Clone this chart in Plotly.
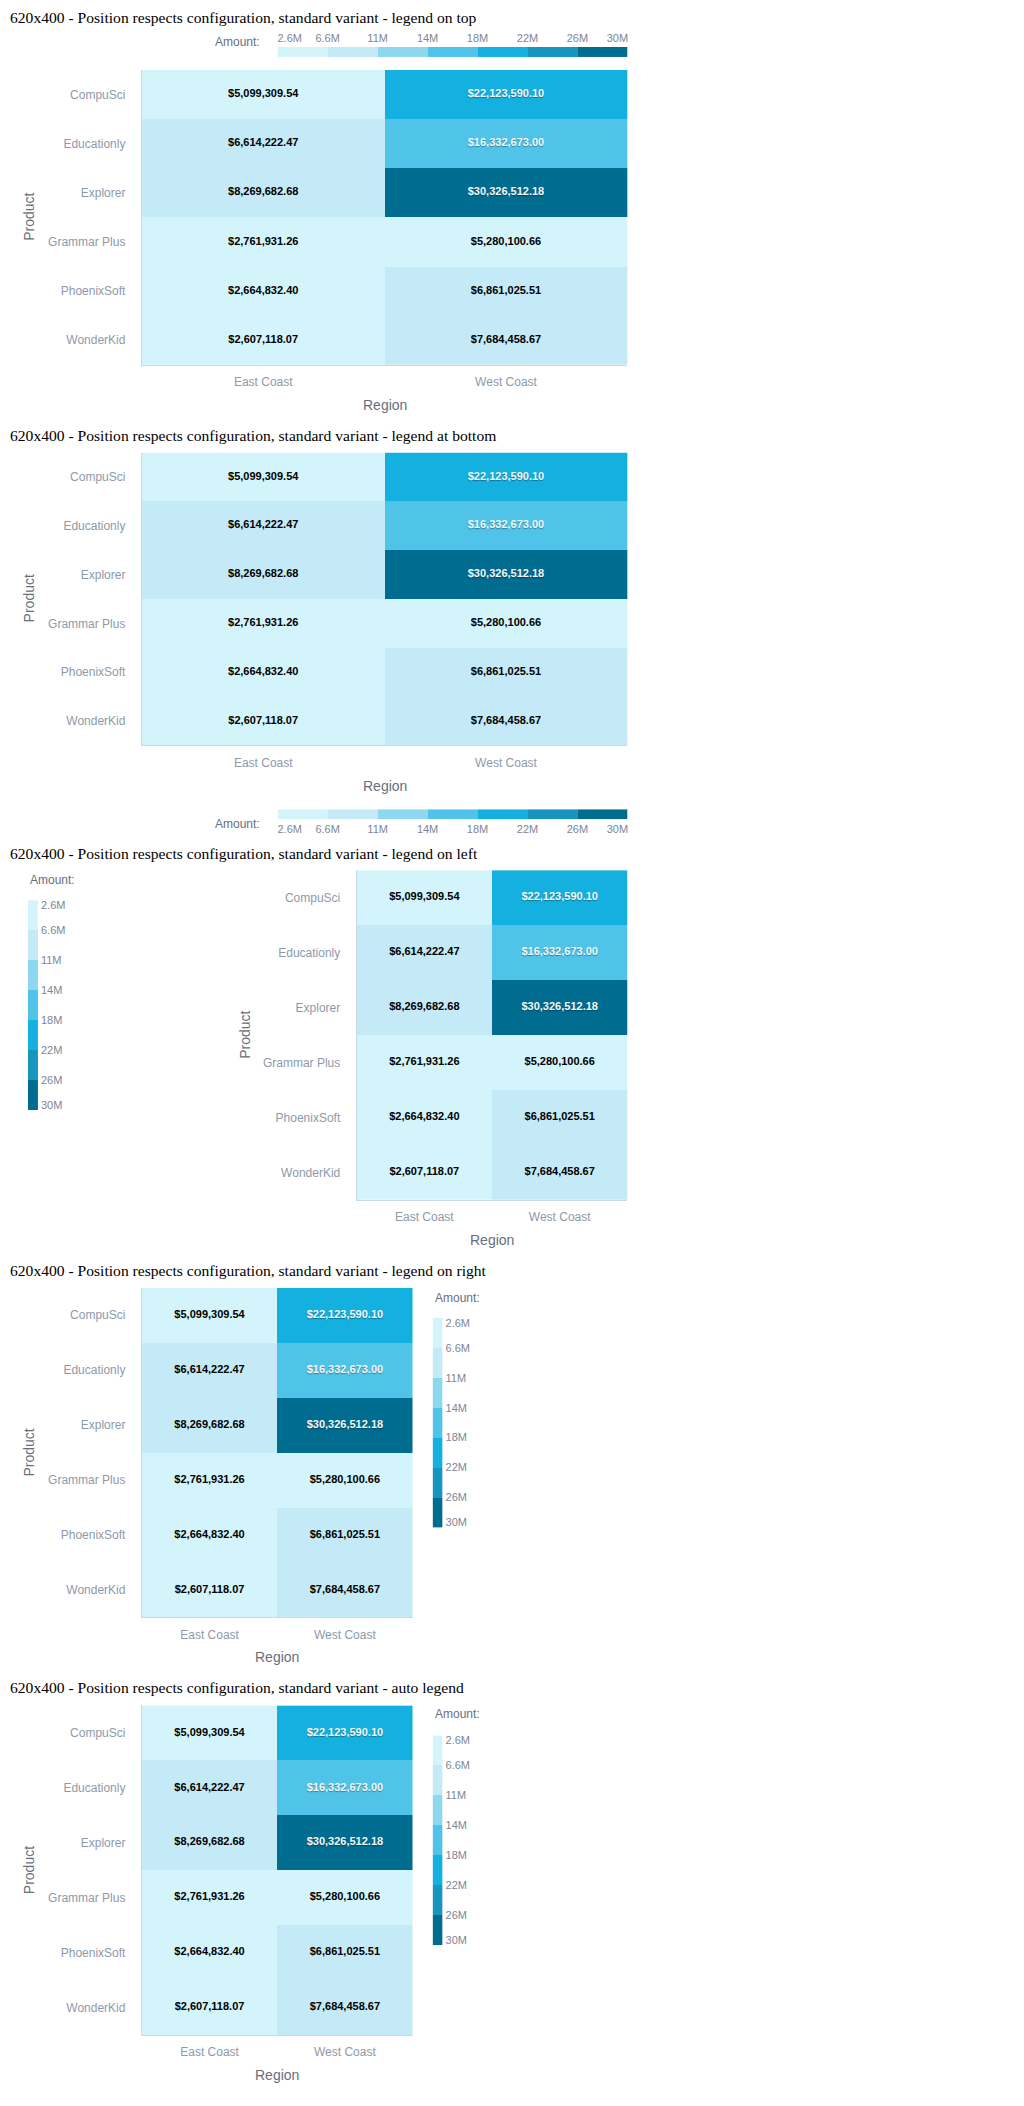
import plotly.graph_objects as go

W, H = 1024, 2106

# ---------------- data ----------------
REGIONS = ["East Coast", "West Coast"]
PRODUCTS = ["CompuSci", "Educationly", "Explorer", "Grammar Plus", "PhoenixSoft", "WonderKid"]
EAST_COAST = [5099309.54, 6614222.47, 8269682.68, 2761931.26, 2664832.40, 2607118.07]
WEST_COAST = [22123590.10, 16332673.00, 30326512.18, 5280100.66, 6861025.51, 7684458.67]
BAND_COLORS = ["#d4f4fc", "#c5eaf7", "#8dd8ef", "#4fc4e8", "#14b1e0", "#1695bf", "#006c8f"]
LEGEND_LABELS = ["2.6M", "6.6M", "11M", "14M", "18M", "22M", "26M", "30M"]
TITLES = [
    "620x400 - Position respects configuration, standard variant - legend on top",
    "620x400 - Position respects configuration, standard variant - legend at bottom",
    "620x400 - Position respects configuration, standard variant - legend on left",
    "620x400 - Position respects configuration, standard variant - legend on right",
    "620x400 - Position respects configuration, standard variant - auto legend",
]
X_TITLE = "Region"
Y_TITLE = "Product"
LEGEND_TITLE = "Amount:"

# ---------------- derived ----------------
Z = [[e, w] for e, w in zip(EAST_COAST, WEST_COAST)]
all_vals = EAST_COAST + WEST_COAST
ZMIN, ZMAX = min(all_vals), max(all_vals)
NB = len(BAND_COLORS)
BOUNDS = [ZMIN + i * (ZMAX - ZMIN) / NB for i in range(NB + 1)]
MIDS = [(BOUNDS[i] + BOUNDS[i + 1]) / 2 for i in range(NB)]
CSCALE = []
for i, c in enumerate(BAND_COLORS):
    CSCALE.append([i / NB, c])
    CSCALE.append([(i + 1) / NB, c])


def band_of(v):
    return min(int((v - ZMIN) / (ZMAX - ZMIN) * NB), NB - 1)


def fx(x):
    return x / W


def fy(y):
    return 1 - y / H


SANS = "Liberation Sans"
SERIF = "Liberation Serif"
TICK_C = "#8e99aa"
AXT_C = "#676f7c"
LEG_C = "#7d8696"
LINE_C = "#c9d8e8"

# layout in pixels for each chart
CHARTS = [
    dict(tx=8, ty=17, plot=(142, 628, 69, 364), leg="h", bar=(278, 628, 46, 56), side="top",
         amount=(262, 41, "right"), product=(29, 216), region=(385, 404)),
    dict(tx=8, ty=435, plot=(142, 628, 452, 745), leg="h", bar=(278, 628, 809, 819), side="bottom",
         amount=(262, 824, "right"), product=(29, 598), region=(385, 786)),
    dict(tx=8, ty=853, plot=(357, 628, 870, 1200), leg="v", bar=(28, 38, 900, 1110), side="right",
         amount=(28, 880, "left"), product=(245, 1035), region=(492, 1240)),
    dict(tx=8, ty=1271, plot=(142, 413, 1288, 1618), leg="v", bar=(433, 443, 1318, 1528), side="right",
         amount=(433, 1298, "left"), product=(29, 1453), region=(277, 1658)),
    dict(tx=8, ty=1688, plot=(142, 413, 1706, 2036), leg="v", bar=(433, 443, 1736, 1946), side="right",
         amount=(433, 1715, "left"), product=(29, 1871), region=(277, 2076)),
]

fig = go.Figure()
layout = dict(width=W, height=H, margin=dict(l=0, r=0, t=0, b=0), paper_bgcolor="white",
              plot_bgcolor="white", showlegend=False, annotations=[])

n = len(CHARTS)
for k, ch in enumerate(CHARTS):
    ia = k + 1          # main axes index
    il = k + 1 + n      # legend axes index
    xa, ya = f"x{ia}", f"y{ia}"
    xl, yl = f"x{il}", f"y{il}"

    # main heatmap
    fig.add_trace(go.Heatmap(
        x=REGIONS, y=PRODUCTS, z=Z, zmin=ZMIN, zmax=ZMAX, colorscale=CSCALE,
        showscale=False, xaxis=xa, yaxis=ya, xgap=0, ygap=0, hoverinfo="skip"))

    # value labels
    for light in (False, True):
        xs, ys, ts = [], [], []
        for r, p in enumerate(PRODUCTS):
            for c, reg in enumerate(REGIONS):
                v = Z[r][c]
                if (band_of(v) >= 3) == light:
                    xs.append(reg)
                    ys.append(p)
                    ts.append(f"${v:,.2f}")
        fig.add_trace(go.Scatter(
            x=xs, y=ys, text=ts, mode="text", xaxis=xa, yaxis=ya, hoverinfo="skip",
            textfont=dict(family=SANS, size=11, weight="bold",
                          color="#f4f8fa" if light else "#000000",
                          shadow="0px 1px 1px rgba(0,0,0,0.35)" if light else "none")))

    L, R, T, B = ch["plot"]
    layout[f"xaxis{ia}"] = dict(
        domain=[fx(L), fx(R)], anchor=ya, range=[-0.5, len(REGIONS) - 0.5],
        showgrid=False, zeroline=False, showline=True, linecolor=LINE_C, linewidth=1,
        ticks="", ticklabelstandoff=6, tickfont=dict(family=SANS, size=12, color=TICK_C),
        fixedrange=True)
    layout[f"yaxis{ia}"] = dict(
        domain=[fy(B), fy(T)], anchor=xa, range=[len(PRODUCTS) - 0.5, -0.5],
        showgrid=False, zeroline=False, showline=True, linecolor=LINE_C, linewidth=1,
        ticks="", ticklabelstandoff=13, tickfont=dict(family=SANS, size=12, color=TICK_C),
        fixedrange=True)

    # legend (discrete colour scale) as its own small heatmap
    bl, br, bt, bb = ch["bar"]
    tv = list(BOUNDS)
    lfont = dict(family=SANS, size=11, color=LEG_C)
    if ch["leg"] == "h":
        blen = br - bl
        tv[0] += 12 * (ZMAX - ZMIN) / blen
        tv[-1] -= 10 * (ZMAX - ZMIN) / blen
        fig.add_trace(go.Heatmap(
            x=BOUNDS, y=[0], z=[MIDS], zmin=ZMIN, zmax=ZMAX, colorscale=CSCALE,
            showscale=False, xaxis=xl, yaxis=yl, hoverinfo="skip"))
        layout[f"xaxis{il}"] = dict(
            domain=[fx(bl), fx(br)], anchor=yl, range=[ZMIN, ZMAX], side=ch["side"],
            tickmode="array", tickvals=tv, ticktext=LEGEND_LABELS, ticks="",
            ticklabelstandoff=2, tickfont=lfont, showgrid=False, zeroline=False,
            showline=False, fixedrange=True)
        layout[f"yaxis{il}"] = dict(
            domain=[fy(bb), fy(bt)], anchor=xl, range=[-0.5, 0.5], visible=False,
            fixedrange=True)
    else:
        blen = bb - bt
        shift = 5 * (ZMAX - ZMIN) / blen
        tv[0] += shift
        tv[-1] -= shift
        fig.add_trace(go.Heatmap(
            x=[0], y=BOUNDS, z=[[m] for m in MIDS], zmin=ZMIN, zmax=ZMAX, colorscale=CSCALE,
            showscale=False, xaxis=xl, yaxis=yl, hoverinfo="skip"))
        layout[f"xaxis{il}"] = dict(
            domain=[fx(bl), fx(br)], anchor=yl, range=[-0.5, 0.5], visible=False,
            fixedrange=True)
        layout[f"yaxis{il}"] = dict(
            domain=[fy(bb), fy(bt)], anchor=xl, range=[ZMAX, ZMIN], side="right",
            tickmode="array", tickvals=tv, ticktext=LEGEND_LABELS, ticks="",
            ticklabelstandoff=2, tickfont=lfont, showgrid=False, zeroline=False,
            showline=False, fixedrange=True)

    ann = layout["annotations"]
    ann.append(dict(text=TITLES[k], x=fx(ch["tx"]), y=fy(ch["ty"]), xref="paper", yref="paper",
                    xanchor="left", yanchor="middle", showarrow=False,
                    font=dict(family=SERIF, size=15.6, color="#000000")))
    ax_, ay_, anc = ch["amount"]
    ann.append(dict(text=LEGEND_TITLE, x=fx(ax_), y=fy(ay_), xref="paper", yref="paper",
                    xanchor=anc, yanchor="middle", showarrow=False,
                    font=dict(family=SANS, size=12, color=AXT_C)))
    px_, py_ = ch["product"]
    ann.append(dict(text=Y_TITLE, x=fx(px_), y=fy(py_), xref="paper", yref="paper",
                    xanchor="center", yanchor="middle", textangle=-90, showarrow=False,
                    font=dict(family=SANS, size=14, color=AXT_C)))
    rx_, ry_ = ch["region"]
    ann.append(dict(text=X_TITLE, x=fx(rx_), y=fy(ry_), xref="paper", yref="paper",
                    xanchor="center", yanchor="middle", showarrow=False,
                    font=dict(family=SANS, size=14, color=AXT_C)))

fig.update_layout(**layout)
fig.write_html("out.html", config={"displayModeBar": False})
